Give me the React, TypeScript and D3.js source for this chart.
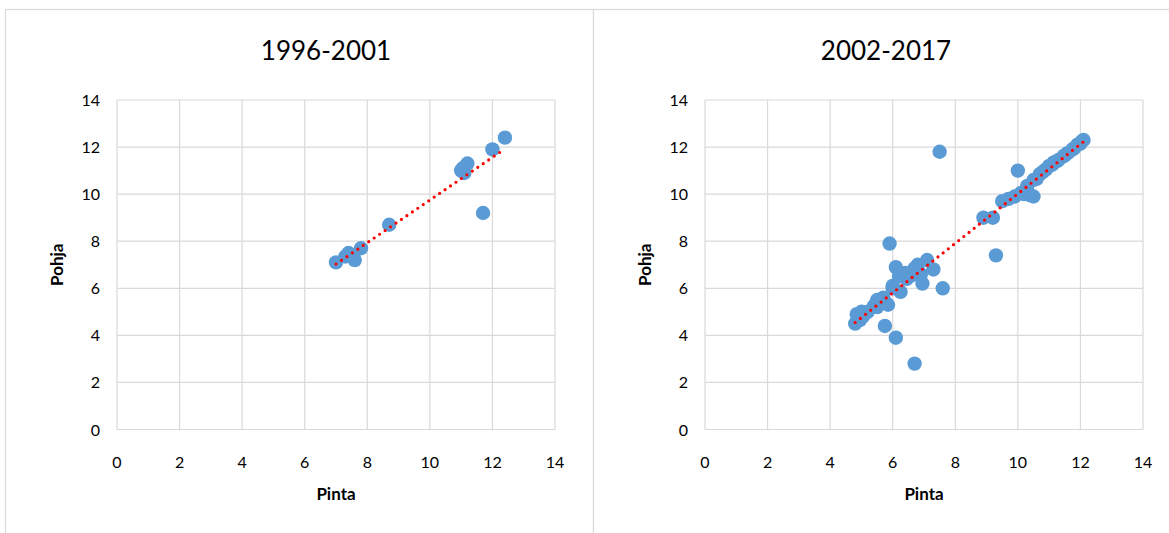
import React from "react";
import * as d3 from "d3";

// Pinta / Pohja readings, period 1996-2001
const pinta1996: number[] = [7.0, 7.3, 7.4, 7.6, 7.8, 8.7, 11.0, 11.05, 11.1, 11.2, 11.7, 12.0, 12.4];
const pohja1996: number[] = [7.1, 7.35, 7.5, 7.2, 7.7, 8.7, 11.0, 11.1, 10.9, 11.3, 9.2, 11.9, 12.4];

// Pinta / Pohja readings, period 2002-2017
const pinta2002: number[] = [
  4.8, 4.85, 5.0, 5.05, 4.95, 5.2, 5.4, 5.5, 5.5, 5.7, 5.85, 6.0, 5.75, 6.1, 6.7, 7.6, 6.95, 7.3,
  6.2, 5.9, 6.1, 6.4, 6.8, 7.1, 6.6, 6.25, 6.45, 6.0, 6.7, 6.9,
  8.9, 9.2, 9.3, 9.5, 9.7, 9.9, 10.1, 10.2, 10.4, 10.5, 10.0, 10.3, 10.5, 10.6, 10.7, 10.8,
  10.9, 11.0, 11.1, 11.15, 11.25, 11.3, 11.45, 11.5, 11.6, 11.75, 11.8, 11.9, 12.0, 12.05, 12.1, 7.5,
];
const pohja2002: number[] = [
  4.5, 4.9, 5.0, 4.8, 4.65, 5.0, 5.25, 5.5, 5.2, 5.6, 5.3, 6.0, 4.4, 3.9, 2.8, 6.0, 6.2, 6.8,
  6.5, 7.9, 6.9, 6.65, 7.0, 7.2, 6.55, 5.85, 6.4, 6.1, 6.85, 6.6,
  9.0, 9.0, 7.4, 9.7, 9.8, 9.9, 10.05, 10.0, 9.95, 9.9, 11.0, 10.35, 10.6, 10.65, 10.85, 10.95,
  11.05, 11.2, 11.25, 11.35, 11.4, 11.45, 11.6, 11.65, 11.75, 11.9, 11.95, 12.1, 12.15, 12.25, 12.3, 11.8,
];

const axisTicks: number[] = [0, 2, 4, 6, 8, 10, 12, 14];
const xAxisTitle = "Pinta";
const yAxisTitle = "Pohja";

const FONT = "Lato, 'Open Sans', sans-serif";
const GRID = "#d9d9d9";
const DOT = "#5b9bd5";

type PanelProps = {
  title: string;
  xs: number[];
  ys: number[];
  left: number; // panel frame left
  width: number; // panel frame width
  plotLeft: number;
  titleX: number;
};

function Panel({ title, xs, ys, left, width, plotLeft, titleX }: PanelProps) {
  const plotTop = 100;
  const plotBottom = 429.5;
  const plotW = 438;
  const x = d3.scaleLinear().domain([0, 14]).range([plotLeft, plotLeft + plotW]);
  const y = d3.scaleLinear().domain([0, 14]).range([plotBottom, plotTop]);

  // least-squares linear trend
  const mx = d3.mean(xs)!;
  const my = d3.mean(ys)!;
  let sxy = 0;
  let sxx = 0;
  xs.forEach((v, i) => {
    sxy += (v - mx) * (ys[i] - my);
    sxx += (v - mx) * (v - mx);
  });
  const slope = sxy / sxx;
  const icpt = my - slope * mx;
  const [x0, x1] = d3.extent(xs) as [number, number];
  const trend = d3.line<number>().x((d) => x(d)).y((d) => y(icpt + slope * d))([x0, x1]);

  return (
    <g>
      <rect x={left} y={9.5} width={width} height={600} fill="#fff" stroke={GRID} strokeWidth={1.2} />
      <text x={titleX} y={60} textAnchor="middle" fontFamily={FONT} fontSize={26} fill="#000">
        {title}
      </text>
      {axisTicks.map((t) => (
        <line key={"v" + t} x1={x(t)} x2={x(t)} y1={plotTop} y2={plotBottom} stroke={GRID} strokeWidth={1.2} />
      ))}
      {axisTicks.map((t) => (
        <line key={"h" + t} x1={plotLeft} x2={plotLeft + plotW} y1={y(t)} y2={y(t)} stroke={GRID} strokeWidth={1.2} />
      ))}
      {axisTicks.map((t) => (
        <text key={"yl" + t} x={plotLeft - 17} y={y(t) + 6} textAnchor="end" fontFamily={FONT} fontSize={16} fill="#000">
          {t}
        </text>
      ))}
      {axisTicks.map((t) => (
        <text key={"xl" + t} x={x(t)} y={468} textAnchor="middle" fontFamily={FONT} fontSize={16} fill="#000">
          {t}
        </text>
      ))}
      <text x={plotLeft + plotW / 2} y={500} textAnchor="middle" fontFamily={FONT} fontSize={17} fontWeight="bold" fill="#000">
        {xAxisTitle}
      </text>
      <text
        transform={`translate(${plotLeft - 54},${(plotTop + plotBottom) / 2}) rotate(-90)`}
        textAnchor="middle"
        fontFamily={FONT}
        fontSize={17}
        fontWeight="bold"
        fill="#000"
      >
        {yAxisTitle}
      </text>
      {xs.map((v, i) => (
        <circle key={"p" + i} cx={x(v)} cy={y(ys[i])} r={7.2} fill={DOT} />
      ))}
      <path d={trend ?? ""} fill="none" stroke="#ff0000" strokeWidth={3.2} strokeLinecap="round" strokeDasharray="0 6.6" />
    </g>
  );
}

export default function App() {
  return (
    <svg width={1169} height={533} style={{ position: "absolute", left: 0, top: 0, background: "#fff" }}>
      <rect width={1169} height={533} fill="#fff" />
      <Panel title="1996-2001" xs={pinta1996} ys={pohja1996} left={5.5} width={588} plotLeft={117} titleX={326} />
      <Panel title="2002-2017" xs={pinta2002} ys={pohja2002} left={593.5} width={600} plotLeft={705} titleX={886} />
    </svg>
  );
}
